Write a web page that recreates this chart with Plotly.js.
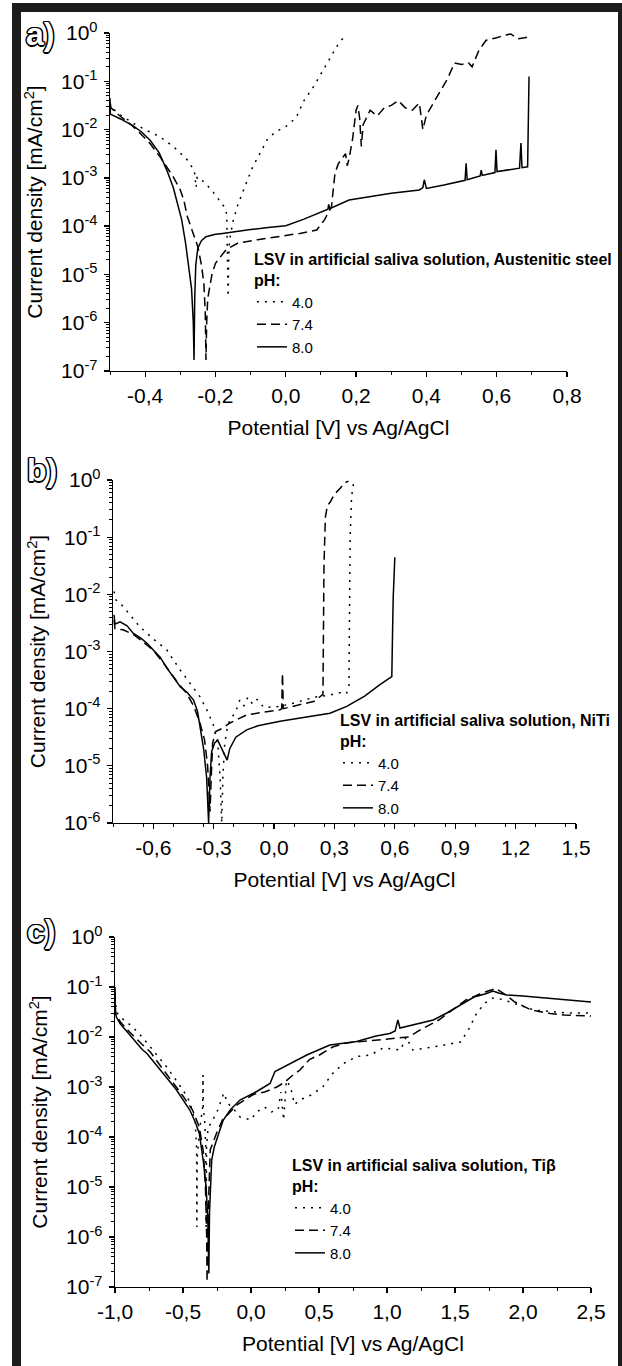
<!DOCTYPE html>
<html><head><meta charset="utf-8">
<script src="https://cdn.plot.ly/plotly-3.0.1.min.js"></script>
<style>
html,body{margin:0;padding:0;background:#fff;}
#chart{position:absolute;left:0;top:0;width:622px;height:1366px;}
#frame{position:absolute;left:12px;top:3px;width:610px;height:1363px;box-sizing:border-box;border-left:9px solid #1c1c1c;border-top:9px solid #1c1c1c;border-right:4px solid #1c1c1c;pointer-events:none;}
</style></head><body>
<div id="chart"></div><div id="frame"></div>
<script>
// ---------------- DATA (potential V, log10 of current density mA/cm2) ----------------
// Panel a: Austenitic steel
var a40_V = [-0.5,-0.495,-0.47,-0.434,-0.4,-0.358,-0.32,-0.28,-0.26,-0.255,-0.252,-0.245,-0.23,-0.207,-0.19,-0.175,-0.168,-0.166,-0.164,-0.162,-0.16,-0.15,-0.136,-0.12,-0.094,-0.07,-0.054,-0.03,0,0.03,0.05,0.08,0.1,0.133,0.15,0.17];
var a40_L = [-1.45,-1.55,-1.7,-1.87,-2.0,-2.15,-2.35,-2.63,-2.85,-3.2,-2.98,-3.02,-3.1,-3.29,-3.45,-3.6,-3.75,-4.4,-5.46,-4.6,-4.29,-3.9,-3.55,-3.25,-2.77,-2.45,-2.22,-2.05,-1.94,-1.75,-1.42,-1.1,-0.85,-0.42,-0.22,-0.05];
var a74_V = [-0.5,-0.497,-0.47,-0.44,-0.415,-0.385,-0.358,-0.34,-0.32,-0.3,-0.29,-0.28,-0.27,-0.25,-0.24,-0.233,-0.229,-0.227,-0.225,-0.222,-0.21,-0.2,-0.17,-0.136,-0.08,-0.023,0.04,0.088,0.11,0.13,0.135,0.14,0.15,0.16,0.17,0.175,0.18,0.19,0.2,0.205,0.21,0.215,0.22,0.24,0.26,0.28,0.3,0.32,0.34,0.36,0.38,0.39,0.4,0.42,0.44,0.46,0.48,0.5,0.52,0.53,0.55,0.57,0.6,0.62,0.64,0.66,0.68,0.7];
var a74_L = [-1.45,-1.55,-1.73,-1.9,-2.07,-2.3,-2.56,-2.75,-2.98,-3.25,-3.46,-3.8,-4.02,-4.43,-4.8,-5.18,-5.8,-6.77,-6.0,-5.5,-5.0,-4.77,-4.49,-4.35,-4.28,-4.22,-4.15,-4.08,-3.87,-3.6,-3.2,-2.9,-2.7,-2.6,-2.5,-2.75,-2.6,-2.2,-1.6,-1.5,-1.75,-2.35,-1.9,-1.6,-1.72,-1.55,-1.5,-1.4,-1.55,-1.6,-1.45,-2.0,-1.7,-1.45,-1.2,-0.95,-0.62,-0.65,-0.62,-0.7,-0.35,-0.15,-0.1,-0.05,-0.02,-0.12,-0.1,-0.06];
var a80_V = [-0.5,-0.499,-0.47,-0.435,-0.41,-0.386,-0.36,-0.338,-0.32,-0.31,-0.296,-0.285,-0.275,-0.268,-0.263,-0.261,-0.259,-0.256,-0.25,-0.24,-0.227,-0.2,-0.18,-0.137,-0.1,-0.05,0,0.05,0.11,0.12,0.122,0.125,0.18,0.25,0.3,0.38,0.39,0.394,0.398,0.4,0.45,0.51,0.513,0.516,0.553,0.556,0.559,0.595,0.598,0.601,0.665,0.669,0.672,0.688,0.692];
var a80_L = [-1.35,-1.68,-1.78,-1.92,-2.05,-2.22,-2.48,-2.85,-3.2,-3.46,-3.87,-4.35,-4.9,-5.3,-6.0,-6.77,-5.5,-4.8,-4.45,-4.3,-4.22,-4.17,-4.15,-4.1,-4.07,-4.03,-3.99,-3.86,-3.68,-3.65,-3.55,-3.64,-3.46,-3.38,-3.32,-3.25,-3.2,-3.04,-3.18,-3.22,-3.15,-3.05,-2.7,-3.04,-2.96,-2.84,-2.95,-2.89,-2.42,-2.87,-2.8,-2.28,-2.79,-2.77,-0.9];
// Panel b: NiTi
var b40_V = [-0.795,-0.785,-0.765,-0.72,-0.666,-0.6,-0.533,-0.467,-0.42,-0.368,-0.33,-0.3,-0.28,-0.268,-0.26,-0.254,-0.245,-0.23,-0.219,-0.19,-0.17,-0.15,-0.13,-0.11,-0.09,-0.05,0.03,0.1,0.2,0.278,0.327,0.36,0.372,0.375,0.378,0.385,0.395];
var b40_L = [-1.95,-2.1,-2.15,-2.35,-2.57,-2.78,-2.97,-3.32,-3.55,-3.79,-4.05,-4.3,-4.6,-5.2,-6.0,-5.2,-4.6,-4.3,-4.2,-4.05,-3.85,-3.95,-3.8,-3.9,-3.82,-3.98,-3.96,-3.9,-3.8,-3.76,-3.72,-3.74,-3.6,-2.5,-1.0,-0.3,-0.05];
var b74_V = [-0.795,-0.79,-0.75,-0.7,-0.65,-0.6,-0.55,-0.5,-0.467,-0.434,-0.4,-0.368,-0.345,-0.33,-0.318,-0.312,-0.305,-0.29,-0.26,-0.219,-0.136,-0.05,0.03,0.038,0.042,0.046,0.15,0.2,0.243,0.245,0.248,0.255,0.265,0.28,0.3,0.33,0.35,0.37];
var b74_L = [-2.45,-2.6,-2.62,-2.7,-2.83,-2.98,-3.2,-3.45,-3.6,-3.73,-3.95,-4.25,-4.55,-5.0,-5.8,-5.2,-4.6,-4.4,-4.35,-4.25,-4.11,-4.06,-4.02,-4.0,-3.38,-4.0,-3.92,-3.87,-3.75,-3.0,-1.5,-0.65,-0.45,-0.38,-0.25,-0.14,-0.05,-0.02];
var b80_V = [-0.795,-0.79,-0.765,-0.73,-0.7,-0.66,-0.63,-0.6,-0.566,-0.53,-0.5,-0.467,-0.43,-0.4,-0.38,-0.368,-0.35,-0.335,-0.325,-0.318,-0.31,-0.295,-0.28,-0.26,-0.233,-0.22,-0.19,-0.136,-0.08,0.03,0.15,0.278,0.361,0.45,0.526,0.585,0.589,0.592,0.6];
var b80_L = [-2.36,-2.52,-2.48,-2.55,-2.68,-2.77,-2.86,-2.97,-3.1,-3.3,-3.45,-3.61,-3.72,-3.85,-4.05,-4.31,-4.7,-5.2,-6.0,-5.2,-4.75,-4.6,-4.55,-4.7,-4.9,-4.7,-4.5,-4.37,-4.3,-4.22,-4.15,-4.08,-3.96,-3.78,-3.58,-3.44,-2.6,-2.05,-1.35];
// Panel c: Ti-beta
var c40_V = [-1.0,-0.99,-0.96,-0.87,-0.8,-0.74,-0.62,-0.5,-0.45,-0.41,-0.4,-0.398,-0.395,-0.38,-0.365,-0.355,-0.353,-0.351,-0.34,-0.333,-0.33,-0.327,-0.315,-0.3,-0.25,-0.2,-0.17,-0.14,-0.08,0.0,0.04,0.1,0.15,0.2,0.22,0.24,0.26,0.29,0.32,0.36,0.45,0.53,0.6,0.68,0.78,0.88,0.97,1.1,1.14,1.19,1.34,1.54,1.6,1.66,1.72,1.78,1.85,1.93,2.08,2.32,2.5];
var c40_L = [-1.2,-1.5,-1.6,-1.8,-2.0,-2.2,-2.6,-3.06,-3.3,-3.7,-4.26,-5.8,-4.4,-3.9,-3.6,-3.4,-2.76,-3.4,-3.7,-4.2,-5.8,-4.2,-3.8,-3.75,-3.5,-3.12,-3.33,-3.4,-3.6,-3.66,-3.5,-3.4,-3.5,-3.45,-3.1,-3.66,-2.87,-2.99,-3.35,-3.26,-3.15,-2.99,-2.73,-2.53,-2.39,-2.36,-2.22,-2.26,-2.0,-2.26,-2.2,-2.1,-1.85,-1.52,-1.32,-1.22,-1.25,-1.32,-1.46,-1.52,-1.52];
var c74_V = [-1.0,-0.995,-0.96,-0.9,-0.8,-0.74,-0.66,-0.57,-0.5,-0.43,-0.38,-0.35,-0.335,-0.326,-0.323,-0.32,-0.31,-0.3,-0.25,-0.21,-0.1,0.017,0.1,0.19,0.25,0.3,0.36,0.43,0.51,0.6,0.7,0.85,0.97,1.1,1.16,1.25,1.38,1.5,1.58,1.7,1.8,1.87,1.94,2.06,2.2,2.3,2.5];
var c74_L = [-1.1,-1.55,-1.7,-1.88,-2.15,-2.3,-2.6,-2.92,-3.18,-3.46,-3.8,-4.3,-5.0,-6.0,-6.9,-6.0,-5.0,-4.26,-3.9,-3.66,-3.35,-3.15,-3.1,-3.0,-2.9,-2.78,-2.66,-2.45,-2.35,-2.2,-2.12,-2.08,-2.06,-2.02,-2.0,-1.85,-1.66,-1.42,-1.26,-1.12,-1.03,-1.15,-1.3,-1.46,-1.53,-1.56,-1.58];
var c80_V = [-1.0,-0.998,-0.99,-0.963,-0.9,-0.85,-0.8,-0.765,-0.7,-0.62,-0.55,-0.45,-0.41,-0.38,-0.35,-0.33,-0.318,-0.31,-0.305,-0.289,-0.27,-0.24,-0.204,-0.15,-0.081,0.042,0.14,0.176,0.287,0.41,0.58,0.777,0.92,1.02,1.06,1.08,1.095,1.2,1.34,1.44,1.55,1.64,1.72,1.78,1.82,1.88,2.0,2.08,2.3,2.5];
var c80_L = [-1.0,-1.46,-1.6,-1.73,-1.93,-2.08,-2.25,-2.33,-2.55,-2.8,-3.05,-3.46,-3.7,-3.93,-4.5,-5.0,-5.6,-6.73,-5.5,-4.46,-4.2,-3.95,-3.66,-3.45,-3.26,-3.09,-2.93,-2.69,-2.53,-2.36,-2.16,-2.09,-1.98,-1.93,-1.88,-1.66,-1.82,-1.75,-1.66,-1.52,-1.35,-1.2,-1.14,-1.08,-1.12,-1.16,-1.18,-1.2,-1.25,-1.3];

var phLabels = ['4.0','7.4','8.0'];
var legendTitles = ['LSV in artificial saliva solution, Austenitic steel','LSV in artificial saliva solution, NiTi','LSV in artificial saliva solution, Ti&#946;'];
var panelLabels = ['a)','b)','c)'];
var xTickVals_a = [-0.4,-0.2,0,0.2,0.4,0.6,0.8];
var xTickText_a = ['-0,4','-0,2','0,0','0,2','0,4','0,6','0,8'];
var xTickVals_b = [-0.6,-0.3,0,0.3,0.6,0.9,1.2,1.5];
var xTickText_b = ['-0,6','-0,3','0,0','0,3','0,6','0,9','1,2','1,5'];
var xTickVals_c = [-1,-0.5,0,0.5,1,1.5,2,2.5];
var xTickText_c = ['-1,0','-0,5','0,0','0,5','1,0','1,5','2,0','2,5'];
var yExp_a = [-7,-6,-5,-4,-3,-2,-1,0];
var yExp_b = [-6,-5,-4,-3,-2,-1,0];

// ---------------- STYLE ----------------
var FONT = 'Liberation Sans, Arial, sans-serif';
var W = 622, H = 1366;
function px(x){return x/W;}
function py(y){return 1-y/H;}
function toI(L){return L.map(function(v){return Math.pow(10,v);});}
function yTicks(exps){return {vals:exps.map(function(e){return Math.pow(10,e);}), text:exps.map(function(e){return '10<sup>'+e+'</sup>';})};}
function yMinor(exps){var out=[];for(var i=0;i<exps.length-1;i++){for(var k=2;k<=9;k++){out.push(k*Math.pow(10,exps[i]));}}return out;}
function xMinor(r,step){var out=[];var n=Math.round((r[1]-r[0])/step);for(var i=0;i<=n;i++){out.push(+(r[0]+i*step).toFixed(4));}return out;}

var dashes = ['2px,6px','9px,5px','solid'];
var traces = [];
function addPanel(idx, sets){
  var xa = idx===0?'x':'x'+(idx+1), ya = idx===0?'y':'y'+(idx+1);
  var lg = idx===0?'legend':'legend'+(idx+1);
  sets.forEach(function(s,j){
    traces.push({x:s[0], y:toI(s[1]), xaxis:xa, yaxis:ya, type:'scatter', mode:'lines', name:phLabels[j], legend:lg,
      line:{color:'#000', width:1.5, dash:dashes[j]}, showlegend:true, hoverinfo:'skip'});
  });
}
addPanel(0,[[a40_V,a40_L],[a74_V,a74_L],[a80_V,a80_L]]);
addPanel(1,[[b40_V,b40_L],[b74_V,b74_L],[b80_V,b80_L]]);
addPanel(2,[[c40_V,c40_L],[c74_V,c74_L],[c80_V,c80_L]]);

var tickFont = {family:FONT, size:21, color:'#000'};
var titleFont = {family:FONT, size:21, color:'#000'};
function xAxis(dom, anchor, range, vals, text, minorStep){
  return {domain:dom, anchor:anchor, range:range, type:'linear', showline:true, linecolor:'#000', linewidth:1.3,
    zeroline:false, showgrid:false, ticks:'outside', ticklen:5, tickwidth:1.3, tickcolor:'#000',
    tickmode:'array', tickvals:vals, ticktext:text, tickfont:tickFont, ticklabelstandoff:0,
    minor:{tickmode:'array', tickvals:xMinor(range,minorStep), ticks:'outside', ticklen:3, tickwidth:1, tickcolor:'#000', showgrid:false},
    title:{text:'Potential [V] vs Ag/AgCl', font:titleFont, standoff:14}, automargin:false, fixedrange:true};
}
function yAxis(dom, anchor, exps){
  var t = yTicks(exps);
  return {domain:dom, anchor:anchor, type:'log', range:[exps[0],exps[exps.length-1]], showline:true, linecolor:'#000', linewidth:1.3,
    zeroline:false, showgrid:false, ticks:'outside', ticklen:5, tickwidth:1.3, tickcolor:'#000',
    tickmode:'array', tickvals:t.vals, ticktext:t.text, tickfont:tickFont, ticklabelstandoff:2,
    minor:{tickmode:'array', tickvals:yMinor(exps), ticks:'outside', ticklen:3, tickwidth:1, tickcolor:'#000', showgrid:false},
    title:{text:'Current density [mA/cm<sup>2</sup>]', font:titleFont, standoff:12}, automargin:false, fixedrange:true};
}
function legendCfg(x,y,title){
  return {x:px(x), xanchor:'left', y:py(y), yanchor:'top', bgcolor:'rgba(0,0,0,0)', borderwidth:0,
    font:{family:FONT, size:15, color:'#000'}, itemwidth:30, tracegroupgap:0, itemclick:false, itemdoubleclick:false,
    title:{text:'<b>'+title+'</b><br><b>pH:</b>', font:{family:FONT, size:16, color:'#000'}, side:'top'}};
}
function labelAnn(x,y,t){
  return {xref:'paper', yref:'paper', x:px(x), y:py(y), xanchor:'center', yanchor:'middle', showarrow:false, text:'<b>'+t+'</b>',
    font:{family:FONT, size:32, color:'#fff', shadow:'1px 1px 0 #000,-1px -1px 0 #000,1px -1px 0 #000,-1px 1px 0 #000,0 1.5px 0 #000,1.5px 0 0 #000,0 -1.5px 0 #000,-1.5px 0 0 #000'}};
}

var layout = {
  width:W, height:H, margin:{l:0,r:0,t:0,b:0}, paper_bgcolor:'#fff', plot_bgcolor:'#fff', showlegend:true,
  xaxis: xAxis([px(110),px(567)],'y',[-0.5,0.8],xTickVals_a,xTickText_a,0.1),
  yaxis: yAxis([py(371),py(33)],'x',yExp_a),
  xaxis2: xAxis([px(113),px(576)],'y2',[-0.8,1.5],xTickVals_b,xTickText_b,0.15),
  yaxis2: yAxis([py(823),py(480)],'x2',yExp_b),
  xaxis3: xAxis([px(115),px(591)],'y3',[-1.0,2.5],xTickVals_c,xTickText_c,0.25),
  yaxis3: yAxis([py(1287),py(937)],'x3',yExp_a),
  legend: legendCfg(252,244,legendTitles[0]),
  legend2: legendCfg(338,705,legendTitles[1]),
  legend3: legendCfg(290,1150,legendTitles[2]),
  annotations:[labelAnn(40,34,panelLabels[0]), labelAnn(42,470,panelLabels[1]), labelAnn(41,931,panelLabels[2])]
};
Plotly.newPlot('chart', traces, layout, {displayModeBar:false, staticPlot:true});
</script></body></html>
